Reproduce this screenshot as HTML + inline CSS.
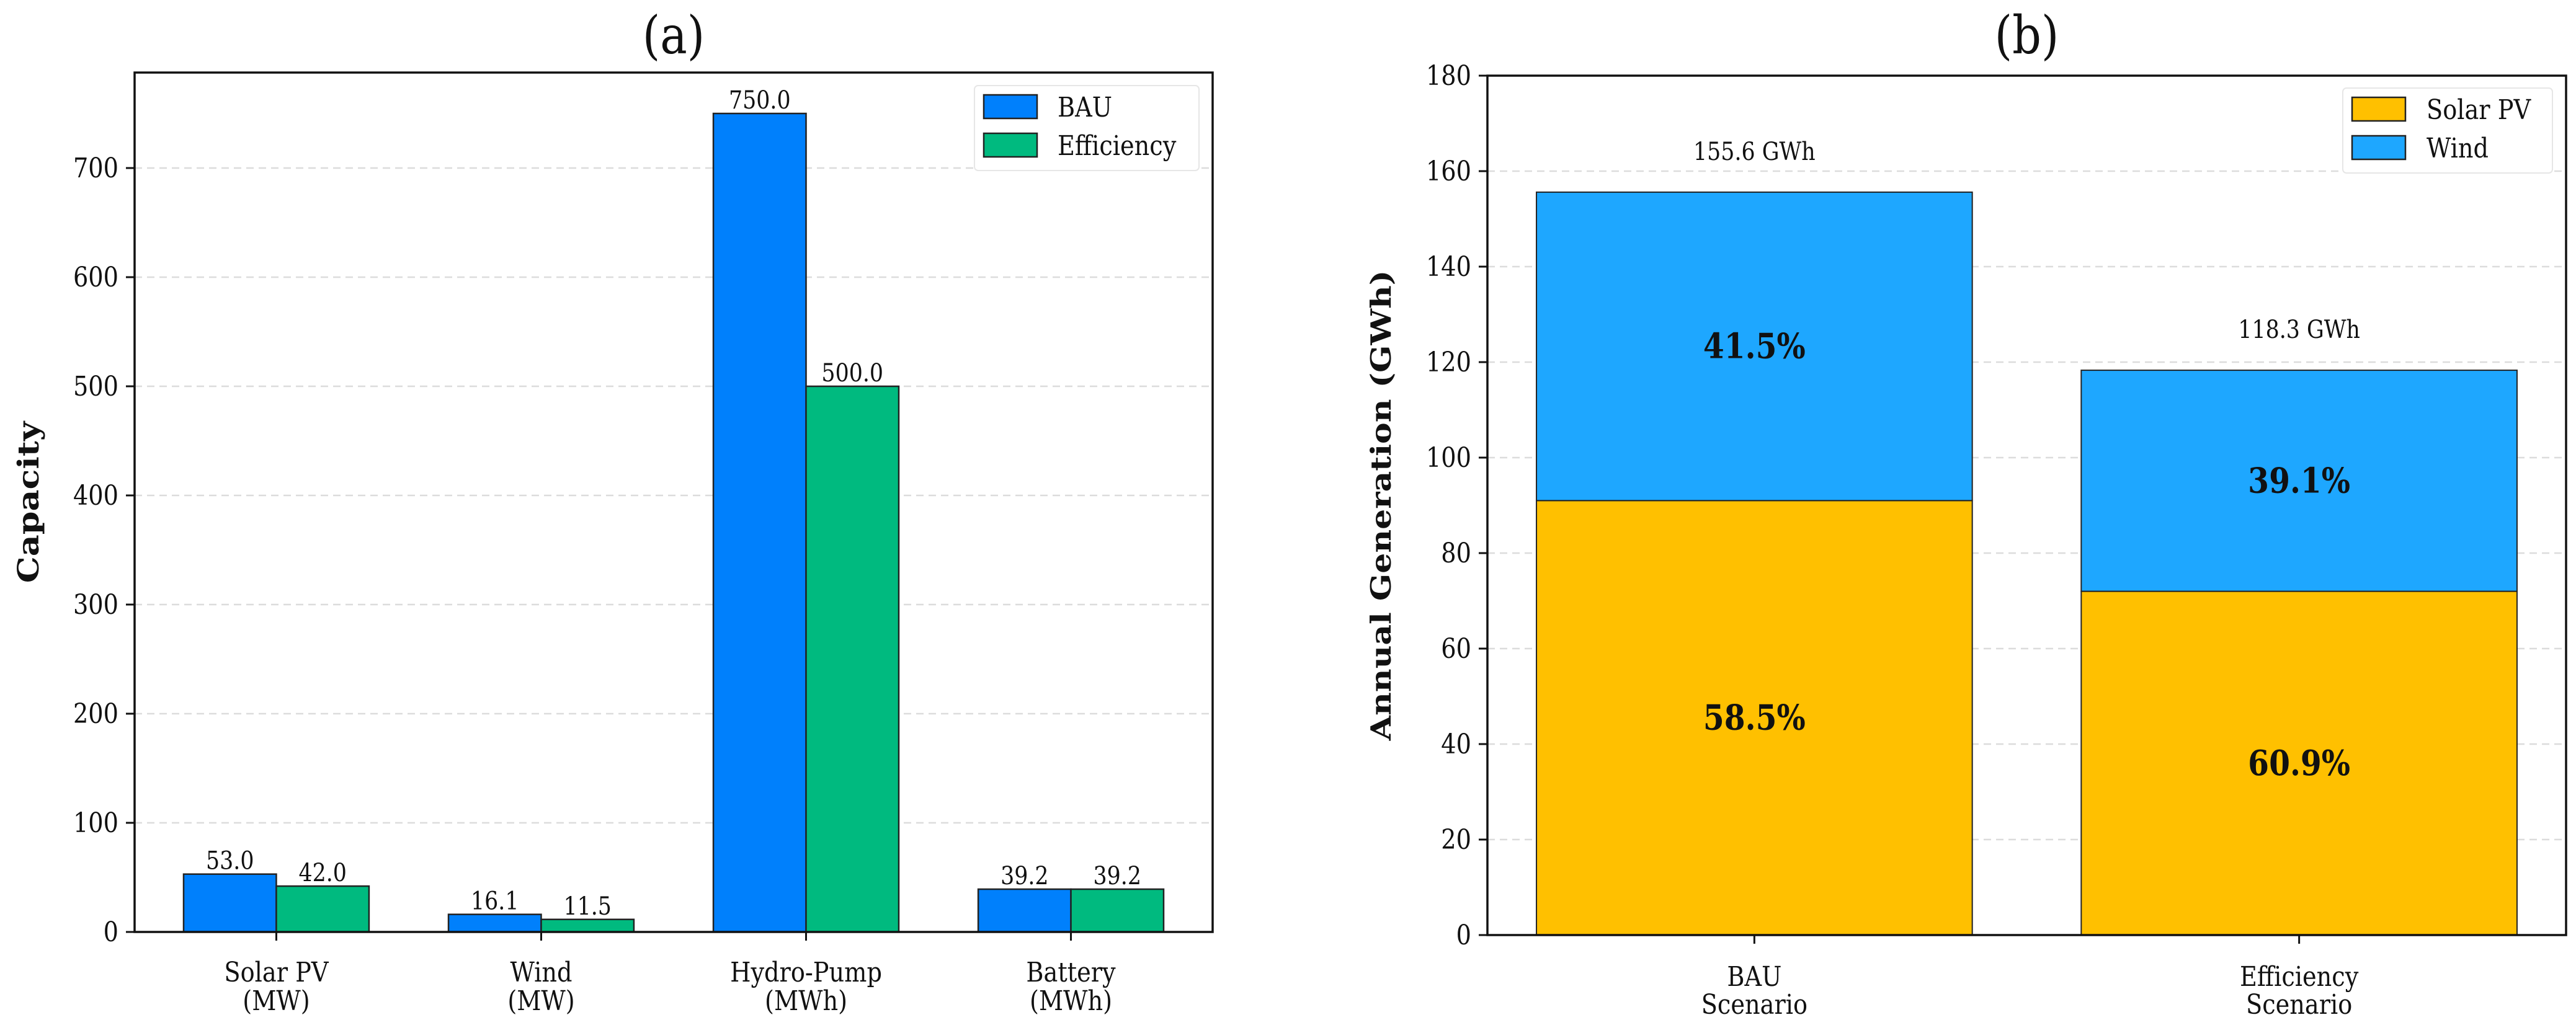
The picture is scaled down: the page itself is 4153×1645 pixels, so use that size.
<!DOCTYPE html>
<html><head><meta charset="utf-8">
<style>
html,body{margin:0;padding:0;background:#fff;}
svg{display:block;}
text{font-family:"DejaVu Serif","Liberation Serif",serif;fill:#111;}
</style></head>
<body>
<svg id="fig" xmlns="http://www.w3.org/2000/svg" width="4153" height="1645" viewBox="0 0 4153 1645"></svg>
<script>
// ---- Panel (a) data ----
const capCategories = ["Solar PV|(MW)", "Wind|(MW)", "Hydro-Pump|(MWh)", "Battery|(MWh)"];
const capBAU = [53.0, 16.1, 750.0, 39.2];
const capEff = [42.0, 11.5, 500.0, 39.2];
const capTicks = [0, 100, 200, 300, 400, 500, 600, 700];
// ---- Panel (b) data ----
const genScenarios = ["BAU|Scenario", "Efficiency|Scenario"];
const genSolar = [91.0, 72.0];
const genWind = [64.6, 46.3];
const genTicks = [0, 20, 40, 60, 80, 100, 120, 140, 160, 180];

const NS = "http://www.w3.org/2000/svg";
const svg = document.getElementById("fig");
const SX = 0.87;
function el(tag, attrs, parent) {
  const e = document.createElementNS(NS, tag);
  for (const k in attrs) e.setAttribute(k, attrs[k]);
  (parent || svg).appendChild(e);
  return e;
}
function txt(x, y, s, size, anchor, weight, rot) {
  const t = el("text", {
    transform: "translate(" + x + "," + y + ") scale(" + SX + ",1)" + (rot ? " rotate(" + rot + ")" : ""),
    "font-size": size, "text-anchor": anchor || "middle", "font-weight": weight || "normal"
  });
  t.textContent = s;
  return t;
}

// ================= Panel (a) =================
const A = {l: 217, r: 1955, t: 117, b: 1503, xmin: -0.535, xmax: 3.535, ymax: 787.5};
const ax = v => A.l + (v - A.xmin) / (A.xmax - A.xmin) * (A.r - A.l);
const ay = v => A.b - v / A.ymax * (A.b - A.t);
let t = txt((A.l + A.r) / 2, 86, "(a)", 84, "middle", "normal");


capTicks.forEach(v => {
  let g = el("line", {x1: A.l, x2: A.r, y1: ay(v), y2: ay(v), stroke: "#dcdcdc", "stroke-width": 2.5, "stroke-dasharray": "12,8"});
  
  
  el("line", {x1: A.l - 14, x2: A.l, y1: ay(v), y2: ay(v), stroke: "#111", "stroke-width": 3});
  let lb = txt(A.l - 26, ay(v) + 15, String(v), 44, "end");
  
  
});
const bw = 0.35;
capCategories.forEach((c, i) => {
  [[capBAU[i], -bw, "#0080fc", "bar-bau"], [capEff[i], 0, "#00ba7f", "bar-efficiency"]].forEach(([v, off, col, nm]) => {
    const x0 = ax(i + off), x1 = ax(i + off + bw);
    let r = el("rect", {x: x0, y: ay(v), width: x1 - x0, height: ay(0) - ay(v), fill: col, stroke: "#222", "stroke-width": 2.5});
    
    
    let vl = txt((x0 + x1) / 2, ay(v) - 8, v.toFixed(1), 40);
    
    
  });
  el("line", {x1: ax(i), x2: ax(i), y1: A.b, y2: A.b + 14, stroke: "#111", "stroke-width": 3});
  const parts = c.split("|");
  let l1 = txt(ax(i), 1583, parts[0], 44);
  
  
  let l2 = txt(ax(i), 1629, parts[1], 44);
  
  
});
let fa = el("rect", {x: A.l, y: A.t, width: A.r - A.l, height: A.b - A.t, fill: "none", stroke: "#111", "stroke-width": 3.5});


t = txt(62, (A.t + A.b) / 2, "Capacity", 54, "middle", "bold", -90);


// legend a
let lg = el("rect", {x: 1571, y: 138, width: 362, height: 137, rx: 6, fill: "#fff", stroke: "#e6e6e6", "stroke-width": 2});


[["BAU", "#0080fc", 173], ["Efficiency", "#00ba7f", 235]].forEach(([n, c, y]) => {
  let s = el("rect", {x: 1586, y: y - 20, width: 86, height: 38, fill: c, stroke: "#222", "stroke-width": 2.5});
  
  
  let lt = txt(1705, y + 15, n, 44, "start");
  
  
});

// ================= Panel (b) =================
const B = {l: 2398, r: 4137, t: 122, b: 1508, xmin: -0.49, xmax: 1.49, ymax: 180};
const bx = v => B.l + (v - B.xmin) / (B.xmax - B.xmin) * (B.r - B.l);
const by = v => B.b - v / B.ymax * (B.b - B.t);
t = txt((B.l + B.r) / 2, 86, "(b)", 84, "middle", "normal");


genTicks.forEach(v => {
  let g = el("line", {x1: B.l, x2: B.r, y1: by(v), y2: by(v), stroke: "#dcdcdc", "stroke-width": 2.5, "stroke-dasharray": "12,8"});
  
  
  el("line", {x1: B.l - 14, x2: B.l, y1: by(v), y2: by(v), stroke: "#111", "stroke-width": 3});
  let lb = txt(B.l - 26, by(v) + 15, String(v), 44, "end");
  
  
});
genScenarios.forEach((c, i) => {
  const x0 = bx(i - 0.4), x1 = bx(i + 0.4), cx = bx(i);
  const s = genSolar[i], w = genWind[i], tot = s + w;
  let r1 = el("rect", {x: x0, y: by(s), width: x1 - x0, height: by(0) - by(s), fill: "#ffc000", stroke: "#222", "stroke-width": 2});
  
  
  let r2 = el("rect", {x: x0, y: by(tot), width: x1 - x0, height: by(s) - by(tot), fill: "#1ea7ff", stroke: "#222", "stroke-width": 2});
  
  
  let p1 = txt(cx, by(s / 2) + 19, (s / tot * 100).toFixed(1) + "%", 56, "middle", "bold");
  
  
  let p2 = txt(cx, by(s + w / 2) + 19, (w / tot * 100).toFixed(1) + "%", 56, "middle", "bold");
  
  
  let tl = txt(cx, by(tot) - 52, tot.toFixed(1) + " GWh", 40);
  
  
  el("line", {x1: cx, x2: cx, y1: B.b, y2: B.b + 14, stroke: "#111", "stroke-width": 3});
  const parts = c.split("|");
  let l1 = txt(cx, 1590, parts[0], 44);
  
  
  let l2 = txt(cx, 1635, parts[1], 44);
  
  
});
let fb = el("rect", {x: B.l, y: B.t, width: B.r - B.l, height: B.b - B.t, fill: "none", stroke: "#111", "stroke-width": 3.5});


t = txt(2242, (B.t + B.b) / 2, "Annual Generation (GWh)", 52, "middle", "bold", -90);


lg = el("rect", {x: 3777, y: 142, width: 338, height: 137, rx: 6, fill: "#fff", stroke: "#e6e6e6", "stroke-width": 2});


[["Solar PV", "#ffc000", 177], ["Wind", "#1ea7ff", 239]].forEach(([n, c, y]) => {
  let s = el("rect", {x: 3792, y: y - 20, width: 86, height: 38, fill: c, stroke: "#222", "stroke-width": 2.5});
  
  
  let lt = txt(3912, y + 15, n, 44, "start");
  
  
});
</script>
</body></html>
